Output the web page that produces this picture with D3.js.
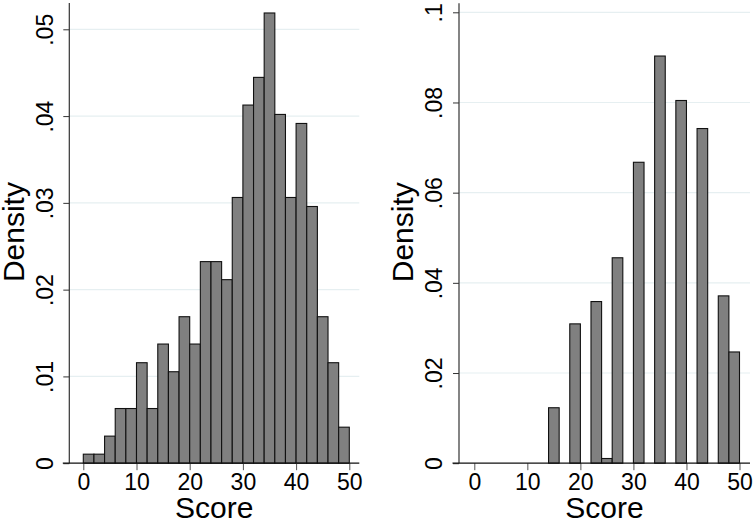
<!DOCTYPE html>
<html>
<head>
<meta charset="utf-8">
<script src="https://cdn.jsdelivr.net/npm/d3@7"></script>
<style>
  html, body { margin: 0; padding: 0; background: #ffffff; }
  svg { display: block; }
  text { font-family: "Liberation Sans", Arial, Helvetica, sans-serif; fill: #000; }
</style>
</head>
<body>
<svg id="chart" width="755" height="523"></svg>
<script>
// ---- data ----
const binStarts = [0,2,4,6,8,10,12,14,16,18,20,22,24,26,28,30,32,34,36,38,40,42,44,46,48];
const binWidth = 2;
const leftDensity = [0.00104,0.00104,0.00312,0.0063,0.0063,0.01158,0.0063,0.01373,0.01054,0.01688,
                     0.01373,0.02323,0.02323,0.02115,0.03062,0.04127,0.04446,0.05188,0.04019,0.03062,
                     0.03915,0.02958,0.01688,0.01158,0.00415];
const rightDensity = [0,0,0,0,0,0,0,0.0123,0,0.0309,
                      0,0.03585,0.00104,0.04556,0,0.06674,0,0.0903,0,0.08044,
                      0,0.07422,0,0.03711,0.02467];
const xTicks = [0,10,20,30,40,50];
const leftYTicks = [0,0.01,0.02,0.03,0.04,0.05];
const leftYLabels = ["0",".01",".02",".03",".04",".05"];
const rightYTicks = [0,0.02,0.04,0.06,0.08,0.1];
const rightYLabels = ["0",".02",".04",".06",".08",".1"];
const xTitle = "Score";
const yTitle = "Density";

const svg = d3.select("#chart");

function panel(cfg) {
  const g = svg.append("g");
  const x = d3.scaleLinear().domain([0,50]).range([cfg.x0, cfg.x50]);
  const y = d3.scaleLinear().domain([0, cfg.yMax]).range([cfg.yBase, cfg.yTopTick]);

  // gridlines
  g.selectAll("line.grid").data(cfg.yTicks.filter(d => d > 0)).enter().append("line")
    .attr("class","grid")
    .attr("x1", cfg.axisX).attr("x2", cfg.right)
    .attr("y1", d => y(d)).attr("y2", d => y(d))
    .attr("stroke", "#e6eff1").attr("stroke-width", 1.2);

  // bars
  const data = binStarts.map((s,i) => ({s, v: cfg.values[i]}));
  g.selectAll("rect.bar").data(data.filter(d => d.v > 0)).enter().append("rect")
    .attr("class","bar")
    .attr("x", d => x(d.s))
    .attr("width", d => x(d.s + binWidth) - x(d.s))
    .attr("y", d => y(d.v))
    .attr("height", d => y(0) - y(d.v))
    .attr("fill", "#808080")
    .attr("stroke", "#111")
    .attr("stroke-width", 1.1);

  // y axis
  const yAxis = d3.axisLeft(y).tickValues(cfg.yTicks).tickSize(6)
    .tickFormat((d,i) => cfg.yLabels[i]);
  const ya = g.append("g").attr("transform", `translate(${cfg.axisX},0)`).call(yAxis);
  ya.select(".domain").remove();
  ya.selectAll(".tick line").attr("stroke", "#333");
  ya.selectAll(".tick text")
    .attr("x", null).attr("dy", null)
    .attr("text-anchor", "middle")
    .attr("transform", "translate(-16.8,0) rotate(-90)")
    .style("font-size", "23px")
    .style("font-family", "'Liberation Sans', Arial, sans-serif")
    .attr("fill", "#000");
  g.append("line")
    .attr("x1", cfg.axisX).attr("x2", cfg.axisX)
    .attr("y1", cfg.yTop).attr("y2", cfg.yBase)
    .attr("stroke", "#333").attr("stroke-width", 1.2);

  // x axis
  const xAxis = d3.axisBottom(x).tickValues(xTicks).tickSize(7).tickFormat(d3.format("d"));
  const xa = g.append("g").attr("transform", `translate(0,${cfg.yBase})`).call(xAxis);
  xa.select(".domain").remove();
  xa.selectAll(".tick line").attr("stroke", "#555");
  xa.selectAll(".tick text")
    .attr("y", 27).attr("dy", null)
    .style("font-size", "23px")
    .style("font-family", "'Liberation Sans', Arial, sans-serif")
    .attr("fill", "#000");
  g.append("line")
    .attr("x1", cfg.axisX - 6.5).attr("x2", cfg.right)
    .attr("y1", cfg.yBase).attr("y2", cfg.yBase)
    .attr("stroke", "#111").attr("stroke-width", 1.2);

  // titles
  g.append("text")
    .attr("x", (cfg.axisX + cfg.right) / 2)
    .attr("y", 518)
    .attr("text-anchor", "middle")
    .style("font-size", "30px")
    .text(xTitle);
  g.append("text")
    .attr("transform", `translate(${cfg.yTitleX},${(cfg.yTop + cfg.yBase) / 2 - 1}) rotate(-90)`)
    .attr("text-anchor", "middle")
    .style("font-size", "30px")
    .text(yTitle);
}

panel({
  values: leftDensity, yTicks: leftYTicks, yLabels: leftYLabels,
  x0: 83.3, x50: 349.3, yMax: 0.05, yBase: 463.2, yTopTick: 29.3, yTop: 3,
  axisX: 69.3, right: 359.3, yTitleX: 23.5
});
panel({
  values: rightDensity, yTicks: rightYTicks, yLabels: rightYLabels,
  x0: 474.3, x50: 739.5, yMax: 0.1, yBase: 463.2, yTopTick: 12.3, yTop: 3.3,
  axisX: 459, right: 750, yTitleX: 412.5
});
</script>
</body>
</html>
